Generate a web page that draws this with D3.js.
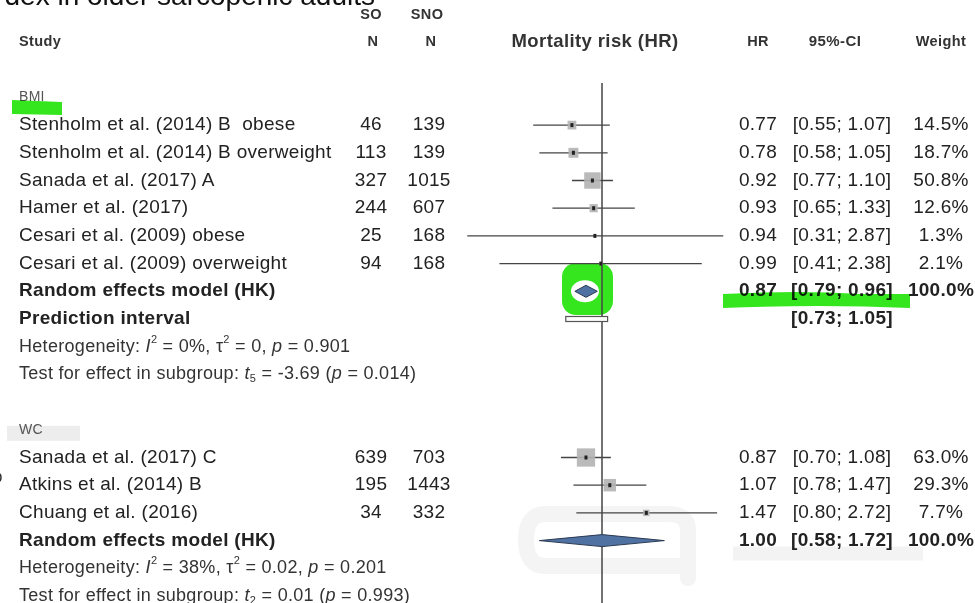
<!DOCTYPE html>
<html>
<head>
<meta charset="utf-8">
<script src="https://cdn.jsdelivr.net/npm/d3@7"></script>
<style>
  html, body { margin: 0; padding: 0; background: #fff; }
  svg { display: block; font-family: "Liberation Sans", Arial, sans-serif; }
  text { white-space: pre; }
</style>
</head>
<body>
<svg id="chart" width="975" height="603"></svg>
<script>
// ---- BMI subgroup ----
const bmiStudies = ["Stenholm et al. (2014) B  obese", "Stenholm et al. (2014) B overweight",
  "Sanada et al. (2017) A", "Hamer et al. (2017)", "Cesari et al. (2009) obese", "Cesari et al. (2009) overweight"];
const bmiSO  = [46, 113, 327, 244, 25, 94];
const bmiSNO = [139, 139, 1015, 607, 168, 168];
const bmiHR  = [0.77, 0.78, 0.92, 0.93, 0.94, 0.99];
const bmiLo  = [0.55, 0.58, 0.77, 0.65, 0.31, 0.41];
const bmiHi  = [1.07, 1.05, 1.10, 1.33, 2.87, 2.38];
const bmiW   = [14.5, 18.7, 50.8, 12.6, 1.3, 2.1];
const bmiPooled = [0.87, 0.79, 0.96];   // HR, lower, upper
const bmiPI     = [0.73, 1.05];

// ---- WC subgroup ----
const wcStudies = ["Sanada et al. (2017) C", "Atkins et al. (2014) B", "Chuang et al. (2016)"];
const wcSO  = [639, 195, 34];
const wcSNO = [703, 1443, 332];
const wcHR  = [0.87, 1.07, 1.47];
const wcLo  = [0.70, 0.78, 0.80];
const wcHi  = [1.08, 1.47, 2.72];
const wcW   = [63.0, 29.3, 7.7];
const wcPooled = [1.00, 0.58, 1.72];

const headers = ["Study", "SO", "SNO", "N", "N", "Mortality risk (HR)", "HR", "95%-CI", "Weight"];

const svg = d3.select("#chart");
const f2 = d3.format(".2f"), f1 = d3.format(".1f");
const ciText = (lo, hi) => `[${f2(lo)}; ${f2(hi)}]`;

// row grid and log HR axis
const row = d3.scaleLinear().domain([0, 20]).range([42, 596]);
const x = d3.scaleLog().domain([0.3, 1 / 0.3]).range([463.5, 740.5]);
const col = { study: 19, so: 371, sno: 429, hr: 758, ci: 842, w: 941 };
const txt = "#222", fs = 19;

// ---- highlighter marks (behind) ----
const hl = svg.append("g");
hl.append("rect").attr("x", 7).attr("y", row(14) - 4).attr("width", 73).attr("height", 15).attr("fill", "#ededed");
hl.append("rect").attr("x", 733).attr("y", row(18) + 6).attr("width", 190).attr("height", 14).attr("fill", "#f3f3f3");
hl.append("path")
  .attr("d", "M688,578 L688,530 Q688,514 668,514 L546,514 Q526,514 526,540 Q526,566 546,566 L686,566")
  .attr("fill", "none").attr("stroke", "#f4f4f4").attr("stroke-width", 16).attr("stroke-linecap", "round");
// green blob around the BMI diamond
hl.append("rect").attr("x", 562).attr("y", 263).attr("width", 51).attr("height", 52).attr("rx", 14)
  .attr("fill", "#35e61f");
hl.append("ellipse").attr("cx", 585).attr("cy", row(9)).attr("rx", 14).attr("ry", 11).attr("fill", "#fff");

// ---- title fragment ----
svg.append("text").attr("x", 375).attr("y", 5).attr("text-anchor", "end")
  .attr("font-size", 28).attr("fill", "#111").text("dex in older sarcopenic adults");
svg.append("text").attr("x", -7).attr("y", 482).attr("font-size", 17).attr("fill", "#333").text("p");

// ---- headers ----
const hdr = (t, xx, yy, anchor, size) => svg.append("text").attr("x", xx).attr("y", yy)
  .attr("text-anchor", anchor).attr("dominant-baseline", "middle").attr("font-weight", "bold")
  .attr("font-size", size).attr("fill", "#333").attr("letter-spacing", 0.4).text(t);
hdr(headers[0], col.study, row(0), "start", 14.5);
hdr(headers[1], col.so, row(-1) + 1, "middle", 14.5);
hdr(headers[2], col.sno - 2, row(-1) + 1, "middle", 14.5);
hdr(headers[3], col.so + 2, row(0), "middle", 14.5);
hdr(headers[4], col.sno + 2, row(0), "middle", 14.5);
hdr(headers[5], 595, row(0), "middle", 18.5);
hdr(headers[6], col.hr, row(0), "middle", 14.5);
hdr(headers[7], col.ci - 7, row(0), "middle", 15);
hdr(headers[8], col.w, row(0), "middle", 14.5);

// reference line at HR = 1
svg.append("line").attr("x1", x(1)).attr("x2", x(1)).attr("y1", 83).attr("y2", 603)
  .attr("stroke", "#444").attr("stroke-width", 1.5);

function label(t, xx, yy, opts = {}) {
  return svg.append("text").attr("x", xx).attr("y", yy).attr("dominant-baseline", "middle")
    .attr("text-anchor", opts.anchor || "start").attr("font-size", opts.size || fs)
    .attr("font-weight", opts.bold ? "bold" : null).attr("fill", opts.fill || txt)
    .attr("letter-spacing", 0.3).text(t);
}

function drawGroup(name, r0, studies, so, sno, hr, lo, hi, w, pooled) {
  label(name, col.study, row(r0), { size: 14, fill: "#555" });
  studies.forEach((s, i) => {
    const y = row(r0 + 1 + i);
    label(s, col.study, y);
    label(String(so[i]), col.so, y, { anchor: "middle" });
    label(String(sno[i]), col.sno, y, { anchor: "middle" });
    svg.append("line").attr("x1", x(lo[i])).attr("x2", x(hi[i])).attr("y1", y).attr("y2", y)
      .attr("stroke", "#444").attr("stroke-width", 1.3);
    const side = 2.3 * Math.sqrt(w[i]);
    svg.append("rect").attr("x", x(hr[i]) - side / 2).attr("y", y - side / 2)
      .attr("width", side).attr("height", side).attr("fill", "#b3b3b3").attr("fill-opacity", 0.9);
    svg.append("rect").attr("x", x(hr[i]) - 1.5).attr("y", y - 2).attr("width", 3).attr("height", 4).attr("fill", "#222");
    label(f2(hr[i]), col.hr, y, { anchor: "middle" });
    label(ciText(lo[i], hi[i]), col.ci, y, { anchor: "middle" });
    label(f1(w[i]) + "%", col.w, y, { anchor: "middle" });
  });
  const yp = row(r0 + 1 + studies.length);
  label("Random effects model (HK)", col.study, yp, { bold: true });
  const [ph, pl, pu] = pooled;
  svg.append("path")
    .attr("d", `M${x(pl)},${yp} L${x(ph)},${yp - 6} L${x(pu)},${yp} L${x(ph)},${yp + 6} Z`)
    .attr("fill", "#4f72a3").attr("stroke", "#2b3a52").attr("stroke-width", 1);
  label(f2(ph), col.hr, yp, { anchor: "middle", bold: true });
  label(ciText(pl, pu), col.ci, yp, { anchor: "middle", bold: true });
  label("100.0%", col.w, yp, { anchor: "middle", bold: true });
  return yp;
}

function hetText(yy, i2, tau2, p) {
  const t = label("", col.study, yy, { size: 18, fill: "#333" });
  t.append("tspan").text("Heterogeneity: ");
  t.append("tspan").attr("font-style", "italic").text("I");
  t.append("tspan").attr("font-size", 11).attr("dy", -7).text("2");
  t.append("tspan").attr("dy", 7).text(` = ${i2}, τ`);
  t.append("tspan").attr("font-size", 11).attr("dy", -7).text("2");
  t.append("tspan").attr("dy", 7).text(` = ${tau2}, `);
  t.append("tspan").attr("font-style", "italic").text("p");
  t.append("tspan").text(` = ${p}`);
}
function testText(yy, df, tval, p) {
  const t = label("", col.study, yy, { size: 18, fill: "#333" });
  t.append("tspan").text("Test for effect in subgroup: ");
  t.append("tspan").attr("font-style", "italic").text("t");
  t.append("tspan").attr("font-size", 11).attr("dy", 5).text(df);
  t.append("tspan").attr("dy", -5).text(` = ${tval} (`);
  t.append("tspan").attr("font-style", "italic").text("p");
  t.append("tspan").text(` = ${p})`);
}

// BMI block
drawGroup("BMI", 2, bmiStudies, bmiSO, bmiSNO, bmiHR, bmiLo, bmiHi, bmiW, bmiPooled);
const ypi = row(10);
label("Prediction interval", col.study, ypi, { bold: true });
svg.append("rect").attr("x", x(bmiPI[0])).attr("y", ypi - 2.5).attr("width", x(bmiPI[1]) - x(bmiPI[0]))
  .attr("height", 5).attr("fill", "#fff").attr("stroke", "#555").attr("stroke-width", 1.2);
label(ciText(bmiPI[0], bmiPI[1]), col.ci, ypi, { anchor: "middle", bold: true });
hetText(row(11), "0%", "0", "0.901");
testText(row(12), "5", "-3.69", "0.014");

// WC block
drawGroup("WC", 14, wcStudies, wcSO, wcSNO, wcHR, wcLo, wcHi, wcW, wcPooled);
hetText(row(19), "38%", "0.02", "0.201");
testText(row(20), "2", "0.01", "0.993");

// ---- green highlighter strokes (multiplied over the text) ----
const gm = svg.append("g").style("mix-blend-mode", "multiply");
gm.append("path").attr("d", "M12,100 L62,102 L62,115 L12,114 Z").attr("fill", "#35e61f");
gm.append("path").attr("d", "M723,294 Q800,290 860,294 L910,294 L910,308 Q820,304 723,308 Z").attr("fill", "#35e61f");
</script>
</body>
</html>
